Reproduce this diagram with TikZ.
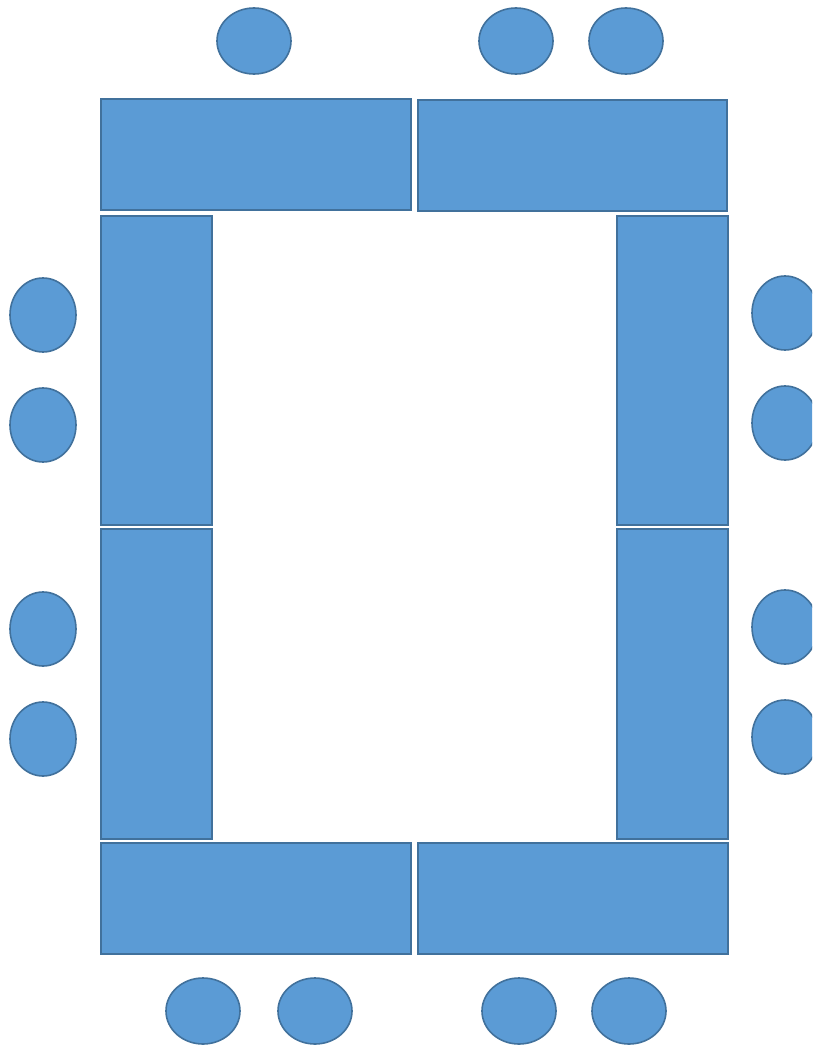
\documentclass[tikz,border=0pt]{standalone}
\definecolor{tfill}{HTML}{5B9BD5}
\definecolor{tline}{HTML}{41719C}
\tikzset{
  tablebox/.style={draw=tline, fill=tfill, line width=1.6pt, rectangle, inner sep=0pt, anchor=north west},
  seat/.style={draw=tline, fill=tfill, line width=1.6pt, ellipse, inner sep=0pt},
  seath/.style={seat, minimum width=74pt, minimum height=66pt},
  seatv/.style={seat, minimum width=66pt, minimum height=74pt},
}
\usetikzlibrary{shapes.geometric}
\begin{document}
\begin{tikzpicture}[x=1pt,y=-1pt]
\useasboundingbox (0,0) rectangle (812,1046);
\clip (0,0) rectangle (812,1046);
% tables
\node[tablebox, minimum width=310pt, minimum height=111pt] (tl) at (100,98) {};
\node[tablebox, minimum width=309pt, minimum height=111pt] (tr) at (417,99) {};
\node[tablebox, minimum width=111pt, minimum height=309pt] (lu) at (100,215) {};
\node[tablebox, minimum width=111pt, minimum height=310pt] (ll) at (100,528) {};
\node[tablebox, minimum width=111pt, minimum height=309pt] (ru) at (616,215) {};
\node[tablebox, minimum width=111pt, minimum height=310pt] (rl) at (616,528) {};
\node[tablebox, minimum width=310pt, minimum height=111pt] (bl) at (100,842) {};
\node[tablebox, minimum width=310pt, minimum height=111pt] (br) at (417,842) {};
% seats top
\node[seath] (t1) at (254,41) {};
\node[seath] (t2) at (516,41) {};
\node[seath] (t3) at (626,41) {};
% seats left
\node[seatv] (l1) at (43,315) {};
\node[seatv] (l2) at (43,425) {};
\node[seatv] (l3) at (43,629) {};
\node[seatv] (l4) at (43,739) {};
% seats right
\node[seatv] (r1) at (785,313) {};
\node[seatv] (r2) at (785,423) {};
\node[seatv] (r3) at (785,627) {};
\node[seatv] (r4) at (785,737) {};
% seats bottom
\node[seath] (b1) at (203,1011) {};
\node[seath] (b2) at (315,1011) {};
\node[seath] (b3) at (519,1011) {};
\node[seath] (b4) at (629,1011) {};
\end{tikzpicture}
\end{document}
